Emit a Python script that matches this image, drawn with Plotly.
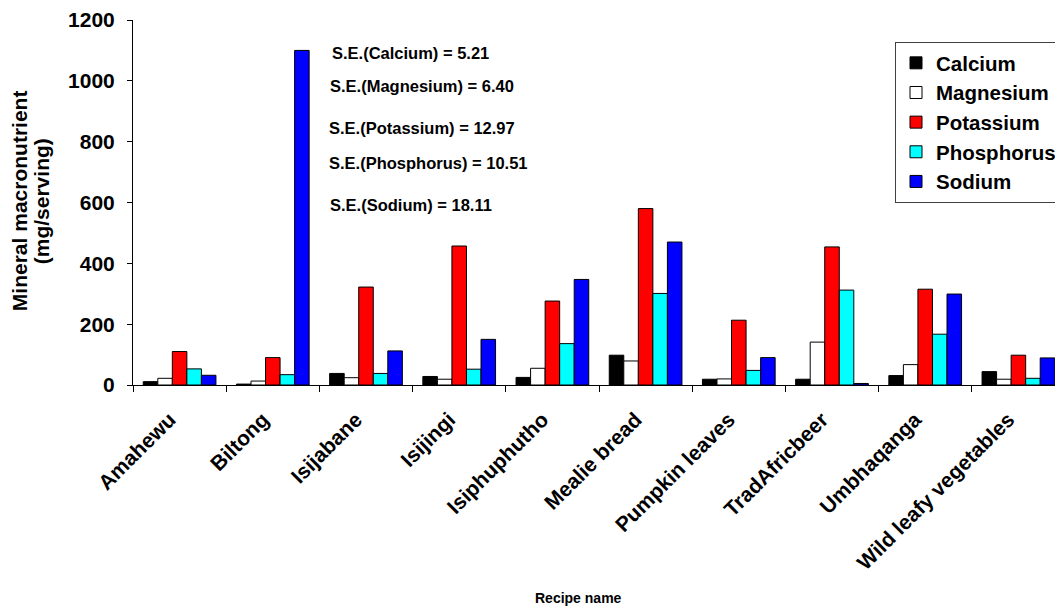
import plotly.graph_objects as go

recipes = ["Amahewu", "Biltong", "Isijabane", "Isijingi", "Isiphuphutho",
           "Mealie bread", "Pumpkin leaves", "TradAfricbeer", "Umbhaqanga",
           "Wild leafy vegetables"]
calcium = [11, 3, 38, 28, 25, 98, 19, 19, 31, 44]
magnesium = [22, 13, 24, 19, 55, 79, 20, 141, 67, 19]
potassium = [110, 90, 322, 457, 276, 580, 213, 454, 315, 98]
phosphorus = [53, 34, 38, 52, 136, 301, 48, 312, 167, 22]
sodium = [32, 1100, 112, 150, 347, 470, 90, 5, 299, 89]

series_names = ["Calcium", "Magnesium", "Potassium", "Phosphorus", "Sodium"]
series_values = [calcium, magnesium, potassium, phosphorus, sodium]
series_colors = ["#000000", "#FFFFFF", "#FF0000", "#00FFFF", "#0000FF"]

se_labels = ["S.E.(Calcium) = 5.21", "S.E.(Magnesium) = 6.40",
             "S.E.(Potassium) = 12.97", "S.E.(Phosphorus) = 10.51",
             "S.E.(Sodium) = 18.11"]
se_y = [1091, 983, 845, 730, 592]
se_x = [0.2114, 0.2092, 0.2082, 0.2082, 0.2092]

FONT = "Liberation Sans, Arial, sans-serif"

fig = go.Figure()
for name, vals, col in zip(series_names, series_values, series_colors):
    fig.add_trace(go.Bar(
        x=recipes, y=vals, name=name,
        marker=dict(color=col, line=dict(color="#000000", width=1)),
    ))

annotations = []
for txt, yy, xx in zip(se_labels, se_y, se_x):
    annotations.append(dict(
        text=txt, x=xx, xref="paper", y=yy, yref="y",
        xanchor="left", yanchor="middle", showarrow=False,
        font=dict(family=FONT, size=16.5, color="black", weight="bold"),
    ))
for txt, xx in [("Mineral macronutrient", -0.1222), ("(mg/serving)", -0.0985)]:
    annotations.append(dict(
        text=txt, textangle=-90,
        x=xx, xref="paper", y=0.504, yref="paper",
        xanchor="center", yanchor="middle", showarrow=False,
        font=dict(family=FONT, size=21, color="black", weight="bold"),
    ))
annotations.append(dict(
    text="Recipe name", x=0.4775, xref="paper", y=-0.5836, yref="paper",
    xanchor="center", yanchor="middle", showarrow=False,
    font=dict(family=FONT, size=14, color="black", weight="bold"),
))

fig.update_layout(
    width=1080, height=615,
    margin=dict(l=133, r=15, t=20, b=230, autoexpand=False),
    paper_bgcolor="white", plot_bgcolor="white",
    barmode="group", bargap=0.22, bargroupgap=0,
    showlegend=True,
    legend=dict(
        x=0.8176, y=0.9397, xanchor="left", yanchor="top",
        bgcolor="white", bordercolor="#404040", borderwidth=1,
        font=dict(family=FONT, size=20.5, color="black", weight="bold"),
    ),
    annotations=annotations,
    xaxis=dict(
        range=[-0.5, 9.5], showline=True, linecolor="black", linewidth=1,
        ticks="outside", tickson="boundaries", ticklen=6, tickcolor="black",
        tickangle=-45, showgrid=False, zeroline=False, automargin=False,
        ticklabelstandoff=13, ticklabelshift=-10,
        tickfont=dict(family=FONT, size=21, color="black", weight="bold"),
    ),
    yaxis=dict(
        range=[0, 1200], dtick=200, showline=True, linecolor="black", linewidth=1,
        ticks="outside", ticklen=5, tickcolor="black", showgrid=False,
        zeroline=False, ticklabelstandoff=8, automargin=False,
        tickfont=dict(family=FONT, size=21, color="black", weight="bold"),
    ),
)

page_js = ("document.body.style.margin='0';"
           "document.body.style.overflow='hidden';"
           "document.documentElement.style.overflow='hidden';")
fig.write_html("out.html", post_script=page_js,
               config={"displayModeBar": False})
